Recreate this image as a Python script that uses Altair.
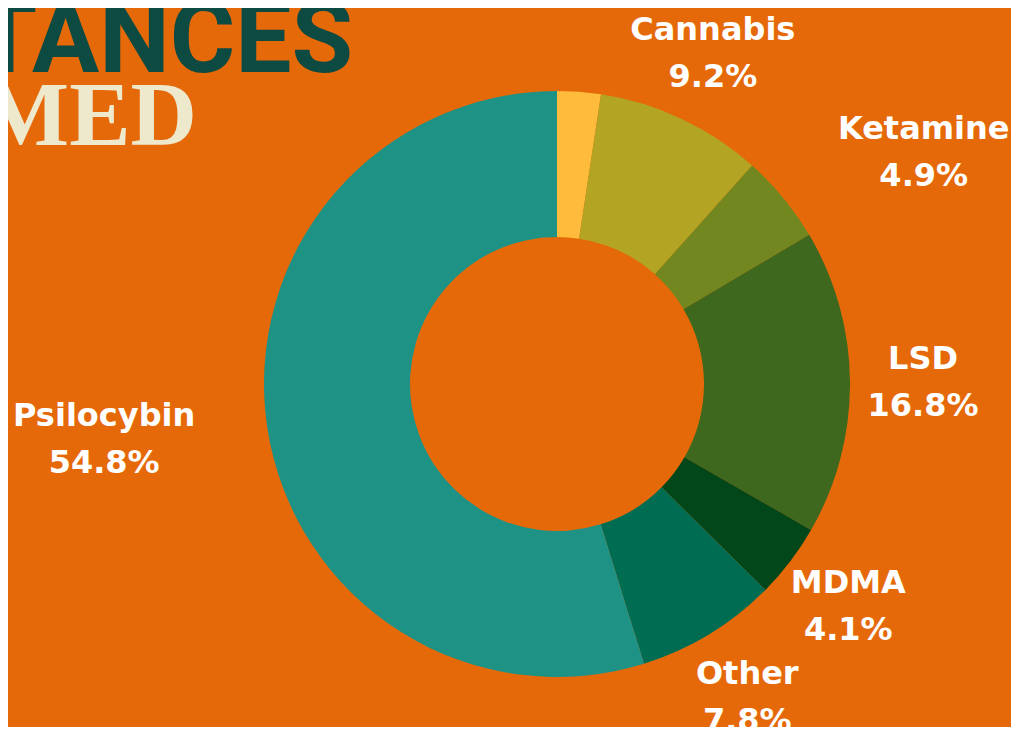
import json
import altair as alt
import pandas as pd

# ---- data ----
categories = ["Unlabeled", "Cannabis", "Ketamine", "LSD", "MDMA", "Other", "Psilocybin"]
shares = [2.4, 9.2, 4.9, 16.8, 4.1, 7.8, 54.8]
colors = ["#FFBB3B", "#B3A423", "#72871F", "#3D681E", "#01471A", "#006D53", "#1F9286"]
labels_std = ["Cannabis", "LSD", "MDMA", "Other"]
labels_right = ["Ketamine"]
labels_left = ["Psilocybin"]
title_top = ["SUBSTANCES"]
title_bottom = ["CONSUMED"]

BG = "#E66909"
W, H = 1003, 719
CX, CY = 549, 376

df = pd.DataFrame({"category": categories, "share": shares, "order": list(range(len(categories)))})

base = alt.Chart(df).encode(
    theta=alt.Theta("share:Q", stack=True),
    order=alt.Order("order:Q"),
)

arcs = base.mark_arc(innerRadius=147, outerRadius=293).encode(
    color=alt.Color("category:N", scale=alt.Scale(domain=categories, range=colors), legend=None),
    x=alt.value(CX),
    y=alt.value(CY),
)


def label_layer(names, dx):
    expr = (
        f"indexof({json.dumps(names)}, datum.category) >= 0 ? "
        "datum.category + '\\n' + format(datum.share, '.1f') + '%' : ''"
    )
    return base.transform_calculate(label=expr).mark_text(
        radius=366, dx=dx, dy=-23, font="DejaVu Sans", fontSize=32, fontWeight=700,
        color="white", lineBreak="\n", lineHeight=47,
        align="center", baseline="middle",
    ).encode(text="label:N", x=alt.value(CX), y=alt.value(CY))


lab_std = label_layer(labels_std, 0)
lab_right = label_layer(labels_right, 84)
lab_left = label_layer(labels_left, -91)

t1 = alt.Chart(pd.DataFrame({"t": title_top})).mark_text(
    font="Liberation Sans Narrow, Roboto", fontSize=100, fontWeight=700, color="#0C4A42",
    align="right", baseline="alphabetic",
).encode(text="t:N", x=alt.value(345), y=alt.value(64))

t2 = alt.Chart(pd.DataFrame({"t": title_bottom})).mark_text(
    font="Liberation Serif", fontSize=92, fontWeight=700, color="#EEE8CC",
    align="right", baseline="alphabetic",
).encode(text="t:N", x=alt.value(189), y=alt.value(137))

chart = alt.layer(arcs, lab_std, lab_right, lab_left, t1, t2).properties(
    width=W, height=H,
    autosize=alt.AutoSizeParams(type="none"),
    padding=0,
    background=BG,
).configure_view(strokeWidth=0)

chart.save("out.html", embed_options={"renderer": "svg", "actions": False})
